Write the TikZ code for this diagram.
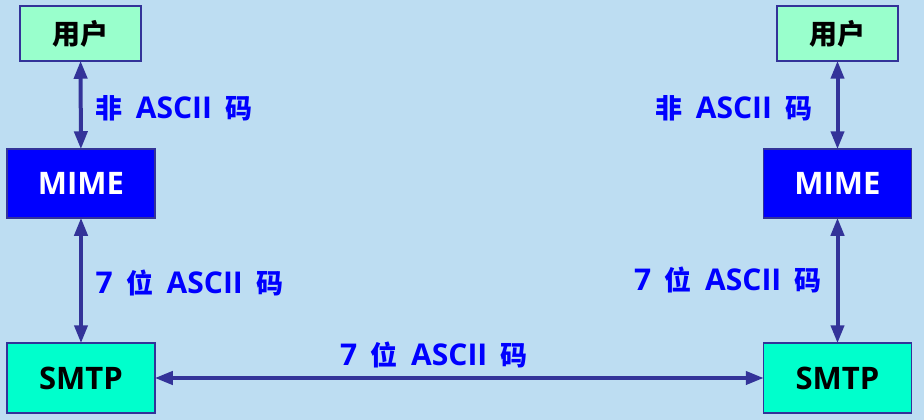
\documentclass[tikz,border=0pt]{standalone}
\usepackage{fontspec}
\setmainfont{Open Sans}
\newfontfamily\cjk{Noto Sans CJK SC}
\usetikzlibrary{arrows.meta}
\definecolor{bgblue}{HTML}{BDDDF2}
\definecolor{userfill}{HTML}{99FFCC}
\definecolor{smtpfill}{HTML}{00FFCC}
\definecolor{edgeblue}{HTML}{333399}
\definecolor{labelblue}{HTML}{0000FF}
\newcommand{\codefont}{\fontsize{30}{32}\selectfont\bfseries\spaceskip=0.45em\relax}
\newcommand{\hanzi}[1]{{\cjk\fontsize{27}{32}\selectfont\bfseries #1}}

\begin{document}
\begin{tikzpicture}[
		x=1pt, y=-1pt,
		box/.style={rectangle, draw=edgeblue, line width=1.5pt, inner sep=0pt, font=\fontsize{31}{36}\selectfont\bfseries},
		userbox/.style={box, fill=userfill, minimum width=121pt, minimum height=55pt, font=\cjk\fontsize{28}{30}\selectfont\bfseries},
		mimebox/.style={box, fill=labelblue, text=white, minimum width=148pt, minimum height=69pt},
		smtpbox/.style={box, fill=smtpfill, minimum width=148pt, minimum height=70pt},
		code/.style={inner sep=0pt, text=labelblue, font=\codefont},
		link/.style={draw=edgeblue, line width=4pt, {Triangle[length=18pt, width=13pt]}-{Triangle[length=18pt, width=13pt]}, shorten <=-1pt, shorten >=-1pt}
	]
  \fill[bgblue] (0,0) rectangle (924,420);
  \useasboundingbox (0,0) rectangle (924,420);
  % left side
  \node (user_l) [userbox] at (80.5, 33.5) {用户};
  \node (mime_l) [mimebox] at (81, 183.5) {MIME};
  \node (smtp_l) [smtpbox] at (81, 378) {SMTP};
  % right side
  \node (user_r) [userbox] at (837.5, 33.5) {用户};
  \node (mime_r) [mimebox] at (837.5, 183.5) {MIME};
  \node (smtp_r) [smtpbox] at (837.5, 378) {SMTP};
  % labels
  \node (code_l1) [code] at (174, 108) {\hanzi{非} ASCII \hanzi{码}};
  \node (code_l2) [code] at (189.5, 283) {7 \hanzi{位} ASCII \hanzi{码}};
  \node (code_r1) [code] at (734, 108) {\hanzi{非} ASCII \hanzi{码}};
  \node (code_r2) [code] at (728, 280) {7 \hanzi{位} ASCII \hanzi{码}};
  \node (code_m) [code] at (434, 355) {7 \hanzi{位} ASCII \hanzi{码}};
  \draw [link] (user_l) -- (mime_l);
  \draw [link] (mime_l) -- (smtp_l);
  \draw [link] (user_r) -- (mime_r);
  \draw [link] (mime_r) -- (smtp_r);
  \draw [link] (smtp_l) -- (smtp_r);
\end{tikzpicture}
\end{document}
